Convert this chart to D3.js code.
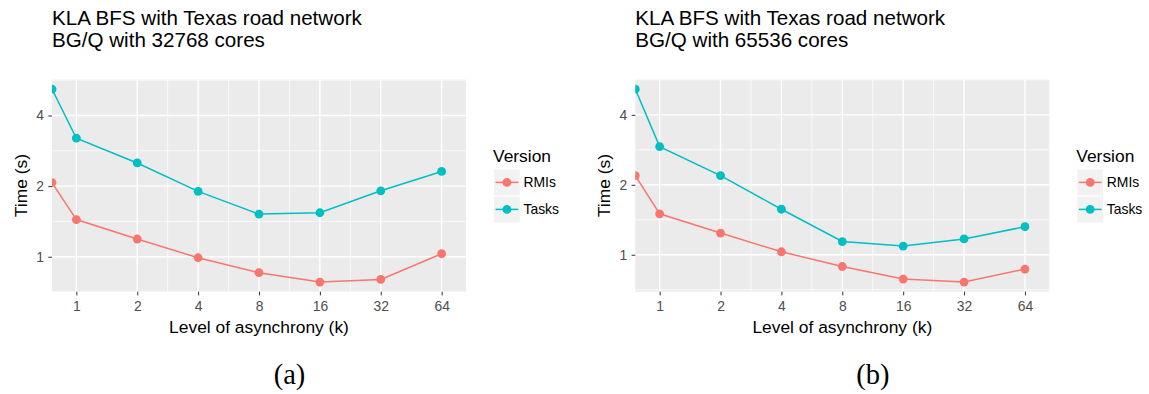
<!DOCTYPE html>
<html>
<head>
<meta charset="utf-8">
<script src="https://cdn.jsdelivr.net/npm/d3@7"></script>
<style>
body { margin: 0; background: #fff; }
svg { display: block; font-family: "Liberation Sans", Arial, sans-serif; }
</style>
</head>
<body>
<svg id="chart" width="1149" height="394"></svg>
<script>
// k = 0 is drawn at the left panel edge (ggplot puts log(0) = -Inf there)
const kValues = [0, 1, 2, 4, 8, 16, 32, 64]
const xTicks = [1, 2, 4, 8, 16, 32, 64]
const yTicks = [1, 2, 4]
const seriesNames = ["RMIs", "Tasks"]
const seriesColors = ["#F8766D", "#00BFC4"]

// panel (a): 32768 cores
const rmis32k = [2.07, 1.44, 1.19, 0.99, 0.855, 0.78, 0.80, 1.03]
const tasks32k = [5.18, 3.20, 2.51, 1.90, 1.52, 1.54, 1.91, 2.31]
// panel (b): 65536 cores
const rmis64k = [2.19, 1.50, 1.24, 1.03, 0.89, 0.786, 0.763, 0.868]
const tasks64k = [5.16, 2.92, 2.19, 1.57, 1.14, 1.09, 1.17, 1.32]

const titleLine1 = "KLA BFS with Texas road network"
const titles2 = ["BG/Q with 32768 cores", "BG/Q with 65536 cores"]
const captions = ["(a)", "(b)"]

let svg = d3.select("#chart")

function drawPanel(idx, series, ox){
  let left = ox + 52, top = 79.5, width = 414, height = 212.2
  let g = svg.append("g").attr("transform", "translate(" + left + "," + top + ")")

  // x: log2, padded 0.4 doubling each side of [1, 64]
  let xPad = 0.4
  let x = d3.scaleLog().base(2)
      .domain([Math.pow(2, Math.log2(xTicks[0]) - xPad), Math.pow(2, Math.log2(xTicks[xTicks.length - 1]) + xPad)])
      .range([0, width])
      .clamp(true)

  // y: log2 with ggplot's 5% expansion
  let all = [].concat(...series)
  let lo = Math.log2(d3.min(all)), hi = Math.log2(d3.max(all))
  let ex = (hi - lo) * 0.05
  let y = d3.scaleLog().base(2)
      .domain([Math.pow(2, lo - ex), Math.pow(2, hi + ex)])
      .range([height, 0])

  g.append("rect").attr("width", width).attr("height", height).attr("fill", "#EBEBEB")

  // minor grid: halfway (in log space) between major breaks
  let xMinor = []
  for(let i = 1; i < xTicks.length - 2; i++){
    xMinor.push(Math.sqrt(xTicks[i] * xTicks[i + 1]))
  }
  let yMinor = [yTicks[0] / Math.SQRT2].concat(yTicks.map(function(t){ return t * Math.SQRT2 }))

  g.selectAll(".xminor").data(xMinor).enter().append("line")
      .attr("x1", function(d){ return x(d) }).attr("x2", function(d){ return x(d) })
      .attr("y1", 0).attr("y2", height)
      .attr("stroke", "#fff").attr("stroke-width", 0.7)
  g.selectAll(".yminor").data(yMinor.filter(function(d){ return y(d) >= -0.5 && y(d) <= height + 0.5 })).enter().append("line")
      .attr("y1", function(d){ return y(d) }).attr("y2", function(d){ return y(d) })
      .attr("x1", 0).attr("x2", width)
      .attr("stroke", "#fff").attr("stroke-width", 0.7)
  g.selectAll(".xmajor").data(xTicks).enter().append("line")
      .attr("x1", function(d){ return x(d) }).attr("x2", function(d){ return x(d) })
      .attr("y1", 0).attr("y2", height)
      .attr("stroke", "#fff").attr("stroke-width", 1.4)
  g.selectAll(".ymajor").data(yTicks).enter().append("line")
      .attr("y1", function(d){ return y(d) }).attr("y2", function(d){ return y(d) })
      .attr("x1", 0).attr("x2", width)
      .attr("stroke", "#fff").attr("stroke-width", 1.4)

  // data, clipped to the panel
  let clipId = "clip" + idx
  g.append("clipPath").attr("id", clipId).append("rect").attr("width", width).attr("height", height)
  let plot = g.append("g").attr("clip-path", "url(#" + clipId + ")")
  let line = d3.line()
      .x(function(d){ return x(d.k) })
      .y(function(d){ return y(d.v) })
  series.forEach(function(vals, s){
    let pts = kValues.map(function(k, i){ return {k: k, v: vals[i]} })
    plot.append("path").datum(pts)
        .attr("d", line)
        .attr("fill", "none")
        .attr("stroke", seriesColors[s])
        .attr("stroke-width", 1.5)
    plot.selectAll(".pt" + s).data(pts).enter().append("circle")
        .attr("cx", function(d){ return x(d.k) })
        .attr("cy", function(d){ return y(d.v) })
        .attr("r", 4.4)
        .attr("fill", seriesColors[s])
  })

  // axes
  let xAxis = g.append("g")
      .attr("transform", "translate(0," + height + ")")
      .call(d3.axisBottom(x).tickValues(xTicks).tickFormat(d3.format("d")).tickSize(3.7).tickPadding(5.4))
  let yAxis = g.append("g")
      .call(d3.axisLeft(y).tickValues(yTicks).tickFormat(d3.format("d")).tickSize(3.7).tickPadding(4.3))
  ;[xAxis, yAxis].forEach(function(a){
    a.select(".domain").remove()
    a.selectAll(".tick line").attr("stroke", "#333").attr("stroke-width", 1)
    a.selectAll(".tick text").attr("fill", "#4D4D4D")
        .style("font-size", "13.9px")
        .style("font-family", "'Liberation Sans', Arial, sans-serif")
  })

  // axis titles
  g.append("text")
      .attr("x", width / 2).attr("y", height + 41.3)
      .attr("text-anchor", "middle")
      .style("font-size", "17.4px")
      .text("Level of asynchrony (k)")
  g.append("text")
      .attr("transform", "translate(-25.5," + (height / 2) + ") rotate(-90)")
      .attr("text-anchor", "middle")
      .style("font-size", "17.4px")
      .text("Time (s)")

  // plot title
  svg.append("text").attr("x", left).attr("y", 25)
      .style("font-size", "20.6px").text(titleLine1)
  svg.append("text").attr("x", left).attr("y", 47)
      .style("font-size", "20.6px").text(titles2[idx])

  // legend
  let lx = left + width + 27
  let legend = svg.append("g").attr("transform", "translate(" + lx + ",0)")
  legend.append("text").attr("x", 0).attr("y", 162)
      .style("font-size", "17.4px").text("Version")
  let key = 25.8
  seriesNames.forEach(function(name, s){
    let ky = 169.5 + s * (key + 1.2)
    let kg = legend.append("g").attr("transform", "translate(1," + ky + ")")
    kg.append("rect").attr("width", key).attr("height", key)
        .attr("fill", "#F2F2F2")
    kg.append("line").attr("x1", 1.5).attr("x2", key - 1.5)
        .attr("y1", key / 2).attr("y2", key / 2)
        .attr("stroke", seriesColors[s]).attr("stroke-width", 1.5)
    kg.append("circle").attr("cx", key / 2).attr("cy", key / 2).attr("r", 4.4)
        .attr("fill", seriesColors[s])
    legend.append("text").attr("x", 30.5).attr("y", ky + key / 2 + 5)
        .style("font-size", "13.9px").text(name)
  })

  // caption
  svg.append("text")
      .attr("x", left + 237.5).attr("y", 384)
      .attr("text-anchor", "middle")
      .style("font-family", "'Liberation Serif', 'Times New Roman', serif")
      .style("font-size", "28.5px")
      .text(captions[idx])
}

drawPanel(0, [rmis32k, tasks32k], 0)
drawPanel(1, [rmis64k, tasks64k], 583.3)
</script>
</body>
</html>
